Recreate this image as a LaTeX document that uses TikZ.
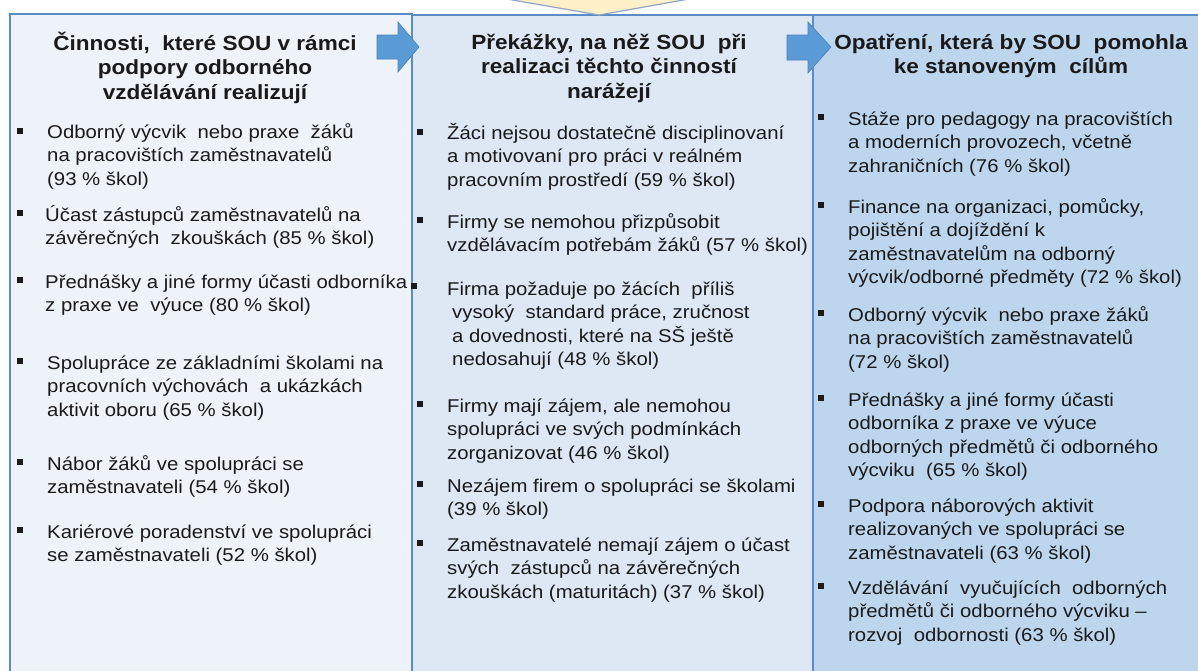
\documentclass[tikz,border=0pt]{standalone}
\usepackage{fontspec}
\setmainfont[FakeStretch=1.1]{Liberation Sans}
\definecolor{fillA}{HTML}{EEF3FA}
\definecolor{fillB}{HTML}{DDE8F4}
\definecolor{fillC}{HTML}{BDD6EE}
\definecolor{edgeB}{HTML}{5B8CC8}
\definecolor{arrF}{HTML}{5B9BD5}
\definecolor{arrE}{HTML}{4A80BE}
\definecolor{yelF}{HTML}{FFF0C9}
\definecolor{yelE}{HTML}{8EA5C2}
\definecolor{txt}{HTML}{1A1A1A}
\newcommand\fls{\rule{0pt}{18pt}}
\newcommand\flh{\rule{0pt}{19pt}}
\tikzset{
  colbox/.style={draw=edgeB, line width=1.4pt},
  blockarrow/.style={fill=arrF, draw=arrE, line width=0.6pt},
  head/.style={anchor=north, inner sep=0pt, align=center, text=txt,
    font=\bfseries\fontsize{20.5}{24.5}\selectfont},
  item/.style={anchor=north west, inner sep=0pt, align=left, text=txt,
    font=\fontsize{18.5}{23.5}\selectfont},
  bul/.style={fill=txt, inner sep=0pt, minimum size=6.5pt, draw=none}
}
\begin{document}
\begin{tikzpicture}[x=1pt,y=-1pt]
\useasboundingbox (0,0) rectangle (1198,670);
\clip (0,0) rectangle (1198,670);
\fill[white] (0,0) rectangle (1198,670);
% columns
\draw[colbox, fill=fillA] (10,14) rectangle (412,690);
\draw[colbox, fill=fillB] (412,15) rectangle (813,690);
\draw[colbox, fill=fillC] (813,15) rectangle (1210,690);
% top arrow (pale yellow)
\draw[fill=yelF, draw=yelE, line width=1.2pt] (507,-1) -- (599,15) -- (689,-1) -- cycle;
% block arrows
\draw[blockarrow] (377,35) -- (398,35) -- (398,22) -- (419,47) -- (398,72) -- (398,59) -- (377,59) -- cycle;
\draw[blockarrow] (787,35) -- (808,35) -- (808,22) -- (831,47) -- (808,73) -- (808,60) -- (787,60) -- cycle;
% headings
\node[head] (h1) at (205,31) {\flh Činnosti,\ \ které SOU v rámci\\podpory odborného\\vzdělávání realizují};
\node[head] (h2) at (609,30) {\flh Překážky, na něž SOU\ \ při\\realizaci těchto činností\\narážejí};
\node[head] (h3) at (1011,30) {\flh Opatření, která by SOU\ \ pomohla\\ke stanoveným\ \ cílům};
% column 1
\node[bul] (b1a) at (20,131) {};
\node[item] (c1a) at (47,120) {\fls Odborný výcvik\ \ nebo praxe\ \ žáků\\na pracovištích zaměstnavatelů\\(93 \% škol)};
\node[bul] (b1b) at (20,213) {};
\node[item] (c1b) at (45,203) {\fls Účast zástupců zaměstnavatelů na\\závěrečných\ \ zkouškách (85 \% škol)};
\node[bul] (b1c) at (20,280) {};
\node[item] (c1c) at (45,270) {\fls Přednášky a jiné formy účasti odborníka\\z praxe ve\ \ výuce (80 \% škol)};
\node[bul] (b1d) at (20,361) {};
\node[item] (c1d) at (47,351) {\fls Spolupráce ze základními školami na\\pracovních výchovách\ \ a ukázkách\\aktivit oboru (65 \% škol)};
\node[bul] (b1e) at (20,462) {};
\node[item] (c1e) at (47,452) {\fls Nábor žáků ve spolupráci se\\zaměstnavateli (54 \% škol)};
\node[bul] (b1f) at (20,530) {};
\node[item] (c1f) at (47,520) {\fls Kariérové poradenství ve spolupráci\\se zaměstnavateli (52 \% škol)};
% column 2
\node[bul] (b2a) at (420,132) {};
\node[item] (c2a) at (447,121) {\fls Žáci nejsou dostatečně disciplinovaní\\a motivovaní pro práci v reálném\\pracovním prostředí (59 \% škol)};
\node[bul] (b2b) at (420,220) {};
\node[item] (c2b) at (447,210) {\fls Firmy se nemohou přizpůsobit\\vzdělávacím potřebám žáků (57 \% škol)};
\node[bul] (b2c) at (414,286) {};
\node[item] (c2c) at (447,277) {\fls Firma požaduje po žácích\ \ příliš\\\hspace*{5pt}vysoký\ \ standard práce, zručnost\\\hspace*{5pt}a dovednosti, které na SŠ ještě\\\hspace*{5pt}nedosahují (48 \% škol)};
\node[bul] (b2d) at (420,404) {};
\node[item] (c2d) at (447,394) {\fls Firmy mají zájem, ale nemohou\\spolupráci ve svých podmínkách\\zorganizovat (46 \% škol)};
\node[bul] (b2e) at (420,484) {};
\node[item] (c2e) at (447,474) {\fls Nezájem firem o spolupráci se školami\\(39 \% škol)};
\node[bul] (b2f) at (420,543) {};
\node[item] (c2f) at (447,533) {\fls Zaměstnavatelé nemají zájem o účast\\svých\ \ zástupců na závěrečných\\zkouškách (maturitách) (37 \% škol)};
% column 3
\node[bul] (b3a) at (821,117) {};
\node[item] (c3a) at (848,107) {\fls Stáže pro pedagogy na pracovištích\\a moderních provozech, včetně\\zahraničních (76 \% škol)};
\node[bul] (b3b) at (821,205) {};
\node[item] (c3b) at (848,195) {\fls Finance na organizaci, pomůcky,\\pojištění a dojíždění k\\zaměstnavatelům na odborný\\výcvik/odborné předměty (72 \% škol)};
\node[bul] (b3c) at (821,313) {};
\node[item] (c3c) at (848,303) {\fls Odborný výcvik\ \ nebo praxe žáků\\na pracovištích zaměstnavatelů\\(72 \% škol)};
\node[bul] (b3d) at (821,398) {};
\node[item] (c3d) at (848,388) {\fls Přednášky a jiné formy účasti\\odborníka z praxe ve výuce\\odborných předmětů či odborného\\výcviku\ \ (65 \% škol)};
\node[bul] (b3e) at (821,504) {};
\node[item] (c3e) at (848,494) {\fls Podpora náborových aktivit\\realizovaných ve spolupráci se\\zaměstnavateli (63 \% škol)};
\node[bul] (b3f) at (821,586) {};
\node[item] (c3f) at (848,576) {\fls Vzdělávání\ \ vyučujících\ \ odborných\\předmětů či odborného výcviku –\\rozvoj\ \ odbornosti (63 \% škol)};
\end{tikzpicture}
\end{document}
